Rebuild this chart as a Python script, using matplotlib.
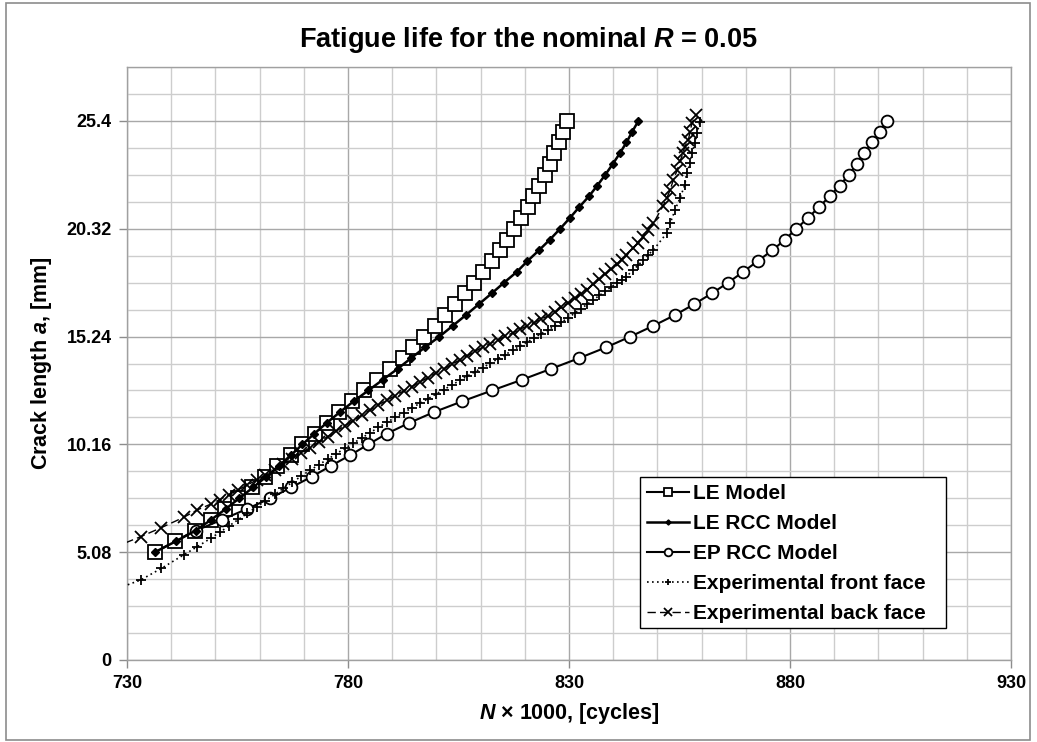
import matplotlib
matplotlib.use("Agg")
import matplotlib.pyplot as plt
from matplotlib.ticker import MultipleLocator, FixedLocator
from matplotlib.patches import Rectangle

plt.rcParams['font.family'] = ['Liberation Sans', 'DejaVu Sans']
plt.rcParams['mathtext.fontset'] = 'custom'
plt.rcParams['mathtext.rm'] = 'Liberation Sans:bold'
plt.rcParams['mathtext.it'] = 'Liberation Sans:italic:bold'
plt.rcParams['mathtext.bf'] = 'Liberation Sans:bold'

# ---------------- data ----------------
# model crack lengths (mm)
a_model = [5.08, 5.588, 6.096, 6.604, 7.112, 7.62, 8.128, 8.636, 9.144, 9.652,
           10.16, 10.668, 11.176, 11.684, 12.192, 12.7, 13.208, 13.716, 14.224, 14.732,
           15.24, 15.748, 16.256, 16.764, 17.272, 17.78, 18.288, 18.796, 19.304, 19.812,
           20.32, 20.828, 21.336, 21.844, 22.352, 22.86, 23.368, 23.876, 24.384, 24.892, 25.4]

N_le = [736.3, 740.9, 745.3, 748.9, 752.2, 755.2, 758.2, 761.2, 764.0, 767.0,
        769.7, 772.5, 775.3, 778.0, 780.9, 783.6, 786.6, 789.6, 792.4, 794.8,
        797.2, 799.7, 801.9, 804.2, 806.4, 808.6, 810.6, 812.6, 814.4, 816.0,
        817.6, 819.2, 820.7, 821.9, 823.3, 824.6, 825.7, 826.6, 827.7, 828.6, 829.5]

N_le_rcc = [736.3, 741.0, 745.5, 749.0, 752.3, 755.4, 758.5, 761.5, 764.3, 767.1,
            769.7, 772.4, 775.2, 778.2, 781.3, 784.6, 787.9, 791.2, 794.3, 797.4,
            800.7, 803.7, 806.7, 809.6, 812.5, 815.3, 818.2, 820.6, 823.2, 825.7,
            828.0, 830.2, 832.3, 834.5, 836.4, 838.2, 839.9, 841.5, 843.0, 844.3, 845.7]

a_ep = a_model[2:]
N_ep_rcc = [745.6, 751.4, 757.1, 762.4, 767.1, 771.8, 776.1, 780.5, 784.6, 788.8,
            793.9, 799.5, 805.9, 812.6, 819.4, 825.9, 832.3, 838.4, 843.9, 849.1,
            854.0, 858.3, 862.3, 866.0, 869.4, 872.7, 876.0, 878.9, 881.4, 884.1,
            886.5, 889.0, 891.2, 893.3, 895.1, 896.8, 898.6, 900.4, 901.9]

# experimental front face
N_front = [727.0, 733.1, 737.8, 742.8, 745.9, 748.9,
           751.0, 753.1, 755.2, 757.2, 759.3, 761.3, 763.4, 765.4, 767.4, 769.4,
           771.4, 773.4, 775.4, 777.3, 779.3, 781.2, 783.1, 785.0, 786.9, 788.8,
           790.7, 792.6, 794.4, 796.3, 798.1, 799.9, 801.7, 803.5, 805.3, 807.0,
           808.8, 810.5, 812.2, 813.9, 815.6, 817.3, 818.9, 820.5, 822.1, 823.7,
           825.3, 826.8, 828.3, 829.8, 831.3, 832.7, 834.1, 835.5, 836.9, 838.2,
           839.5, 840.8, 841.9, 843.0, 844.5, 845.7, 846.8, 847.9, 849.1,
           852.1, 852.9, 854.0, 855.1, 856.2, 856.6, 857.4, 857.8, 858.5, 859.0, 859.6]
a_front = [3.30, 3.77, 4.32, 4.95, 5.34, 5.73,
           6.02, 6.32, 6.62, 6.91, 7.21, 7.50, 7.80, 8.09, 8.37, 8.66,
           8.94, 9.20, 9.46, 9.71, 9.97, 10.22, 10.46, 10.71, 10.96, 11.20,
           11.43, 11.66, 11.87, 12.10, 12.31, 12.53, 12.74, 12.96, 13.17, 13.38,
           13.59, 13.78, 13.98, 14.19, 14.39, 14.60, 14.79, 14.98, 15.18, 15.37,
           15.56, 15.74, 15.92, 16.12, 16.34, 16.55, 16.76, 16.97, 17.18, 17.37,
           17.57, 17.76, 17.92, 18.06, 18.38, 18.61, 18.85, 19.09, 19.32,
           20.11, 20.58, 21.21, 21.76, 22.38, 22.93, 23.41, 23.88, 24.35, 24.82, 25.37]

# experimental back face
N_back = [727.0, 733.1, 737.8, 742.8, 745.9, 748.9,
          751.0, 753.1, 755.2, 757.2, 759.3, 761.3, 763.4, 765.4, 767.4, 769.4,
          771.4, 773.4, 775.4, 777.3, 779.3, 781.2, 783.1, 785.0, 786.9, 788.8,
          790.7, 792.6, 794.4, 796.3, 798.1, 799.9, 801.7, 803.5, 805.3, 807.0,
          808.8, 810.5, 812.2, 813.9, 815.6, 817.3, 818.9, 820.5, 822.1, 823.7,
          825.3, 826.8, 828.3, 829.8, 831.3, 832.7, 834.1, 835.5, 836.9, 838.2,
          839.5, 840.8, 841.9, 843.0, 844.5, 845.7, 846.8, 847.9, 849.1,
          851.3, 852.1, 852.9, 853.6, 854.5, 855.1, 855.8, 856.2, 857.0, 857.4, 857.8, 858.7]
a_back = [5.30, 5.81, 6.24, 6.72, 7.07, 7.34,
          7.56, 7.79, 8.02, 8.24, 8.48, 8.70, 8.97, 9.23, 9.49, 9.75,
          10.01, 10.27, 10.53, 10.78, 11.04, 11.28, 11.53, 11.78, 12.03, 12.24,
          12.46, 12.68, 12.88, 13.10, 13.31, 13.52, 13.72, 13.93, 14.14, 14.34,
          14.55, 14.74, 14.91, 15.08, 15.25, 15.42, 15.58, 15.74, 15.90, 16.06,
          16.22, 16.39, 16.61, 16.82, 17.04, 17.24, 17.45, 17.70, 17.95, 18.19,
          18.42, 18.66, 18.85, 19.08, 19.40, 19.67, 19.95, 20.26, 20.58,
          21.40, 21.76, 22.15, 22.62, 23.09, 23.49, 23.88, 24.19, 24.50, 24.90, 25.29, 25.68]

x_ticks = [730, 780, 830, 880, 930]
y_ticks = [0, 5.08, 10.16, 15.24, 20.32, 25.4]
y_tick_labels = ['0', '5.08', '10.16', '15.24', '20.32', '25.4']
labels = ['LE Model', 'LE RCC Model', 'EP RCC Model',
          'Experimental front face', 'Experimental back face']

# ---------------- figure ----------------
W, H = 1037, 742
fig = plt.figure(figsize=(W/100, H/100), dpi=100)
ax = fig.add_axes([127/W, 1 - 660/H, (1011-127)/W, (660-67)/H])

fig.patches.append(Rectangle((6/W, 2/H), 1024/W, 737/H, transform=fig.transFigure,
                             fill=False, edgecolor='#8c8c8c', linewidth=1.2))

ax.set_xlim(730, 930)
ax.set_ylim(0, 27.94)

ax.xaxis.set_major_locator(FixedLocator(x_ticks))
ax.xaxis.set_minor_locator(MultipleLocator(10))
ax.yaxis.set_major_locator(FixedLocator(y_ticks))
ax.yaxis.set_minor_locator(MultipleLocator(1.27))
ax.set_yticklabels(y_tick_labels)

ax.grid(which='major', color='#a8a8a8', linewidth=1.0)
ax.grid(which='minor', color='#cdcdcd', linewidth=1.0)
ax.set_axisbelow(True)
for s in ax.spines.values():
    s.set_color('#a0a0a0')
    s.set_linewidth(1.0)

ax.tick_params(which='major', direction='out', length=6, color='#8c8c8c', width=1,
               labelsize=13, pad=5)
ax.tick_params(which='minor', length=0)
for lab in ax.get_xticklabels() + ax.get_yticklabels():
    lab.set_fontweight('bold')

ax.plot(N_le, a_model, '-', color='black', lw=1.5, marker='s', markersize=9.5,
        markerfacecolor='white', markeredgecolor='black', markeredgewidth=1.3,
        label=labels[0], zorder=3)
ax.plot(N_le_rcc, a_model, '-', color='black', lw=1.8, marker='D', markersize=4,
        markerfacecolor='black', markeredgecolor='black', label=labels[1], zorder=4)
ax.plot(N_ep_rcc, a_ep, '-', color='black', lw=1.5, marker='o', markersize=8.5,
        markerfacecolor='white', markeredgecolor='black', markeredgewidth=1.3,
        label=labels[2], zorder=3)
ax.plot(N_front, a_front, linestyle=(0, (1, 2)), color='black', lw=1.2, marker='+',
        markersize=7.5, markeredgewidth=1.3, label=labels[3], zorder=3)
ax.plot(N_back, a_back, linestyle=(0, (6, 3)), color='black', lw=1.0, marker='x',
        markersize=8, markeredgewidth=1.3, label=labels[4], zorder=3)

# legend box (frame drawn separately to match the wider box of the original)
lx0, lx1, ly0, ly1 = 640, 946, 477, 628
frame = Rectangle(((lx0-127)/884, (660-ly1)/593), (lx1-lx0)/884, (ly1-ly0)/593,
                  transform=ax.transAxes, facecolor='white', edgecolor='black',
                  linewidth=1.0, zorder=5)
ax.add_patch(frame)
leg = ax.legend(loc='upper left', bbox_to_anchor=((lx0-127)/884, (660-ly0)/593),
                borderaxespad=0, frameon=False,
                prop={'weight': 'bold', 'size': 15}, handlelength=2.0, markerscale=0.65,
                handletextpad=0.2, labelspacing=0.53, borderpad=0.35, numpoints=1)
leg.set_zorder(6)

fig.text(528/W, 1 - 40/H, r'Fatigue life for the nominal $R$ = 0.05', ha='center',
         va='center', fontsize=19.5, fontweight='bold')
ax.set_xlabel(r'$N$ × 1000, [cycles]', fontsize=15.5, fontweight='bold', labelpad=6)
ax.set_ylabel(r'Crack length $a$, [mm]', fontsize=15.5, fontweight='bold', labelpad=9)

fig.savefig('out.png', dpi=100)
